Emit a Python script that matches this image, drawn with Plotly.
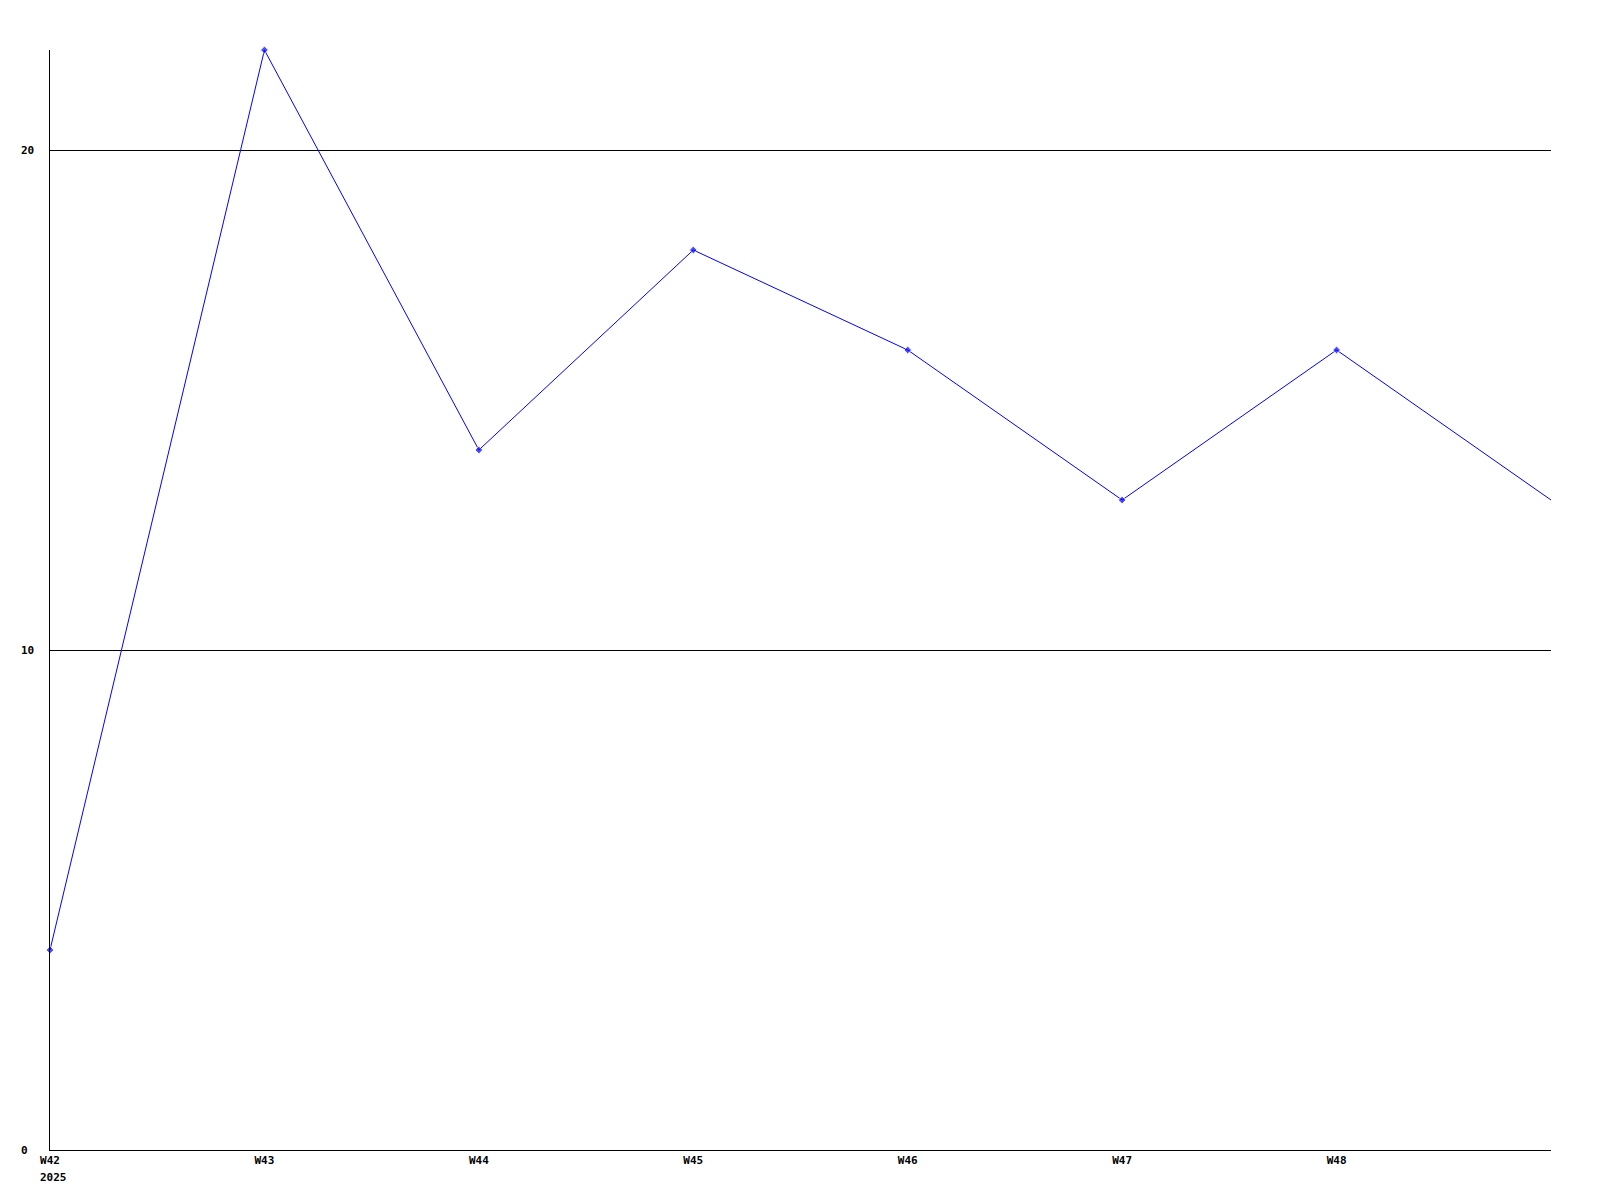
import plotly.graph_objects as go

weeks = ["W42", "W43", "W44", "W45", "W46", "W47", "W48", "W49"]
values = [4, 22, 14, 18, 16, 13, 16, 13]
tick_labels = ["W42", "W43", "W44", "W45", "W46", "W47", "W48"]
y_ticks = [0, 10, 20]
year_label = "2025"

x_pos = list(range(len(weeks)))
marker_sizes = [6] * (len(weeks) - 1) + [0]

font = dict(family="DejaVu Sans Mono", size=11, color="black", weight="bold")

fig = go.Figure()
fig.add_trace(go.Scatter(
    x=x_pos, y=values, mode="lines+markers",
    line=dict(color="#0000ff", width=1),
    marker=dict(color="#0000ff", size=marker_sizes, symbol="diamond"),
    cliponaxis=False, showlegend=False,
))

annotations = []
for v in y_ticks:
    annotations.append(dict(
        xref="paper", yref="y", x=0, y=v, text=str(v), showarrow=False,
        xanchor="left", yanchor="middle", xshift=-31, font=font,
    ))
annotations.append(dict(
    xref="x", yref="paper", x=0, y=0, text=year_label, showarrow=False,
    xanchor="left", yanchor="top", xshift=-12, yshift=-19, font=font,
))

fig.update_layout(
    width=1592, height=1192,
    margin=dict(l=42, r=49, t=42, b=50),
    paper_bgcolor="white", plot_bgcolor="white",
    font=font,
    annotations=annotations,
    xaxis=dict(
        range=[0, 7], tickmode="array", tickvals=list(range(len(tick_labels))),
        ticktext=tick_labels, showgrid=False, zeroline=False,
        showline=True, linecolor="black", linewidth=1, ticks="",
        tickfont=font,
    ),
    yaxis=dict(
        range=[0, 22], tickmode="array", tickvals=y_ticks, showticklabels=False,
        showgrid=True, gridcolor="black", gridwidth=1, zeroline=False,
        showline=True, linecolor="black", linewidth=1, ticks="",
    ),
)

fig.write_html("out.html")
